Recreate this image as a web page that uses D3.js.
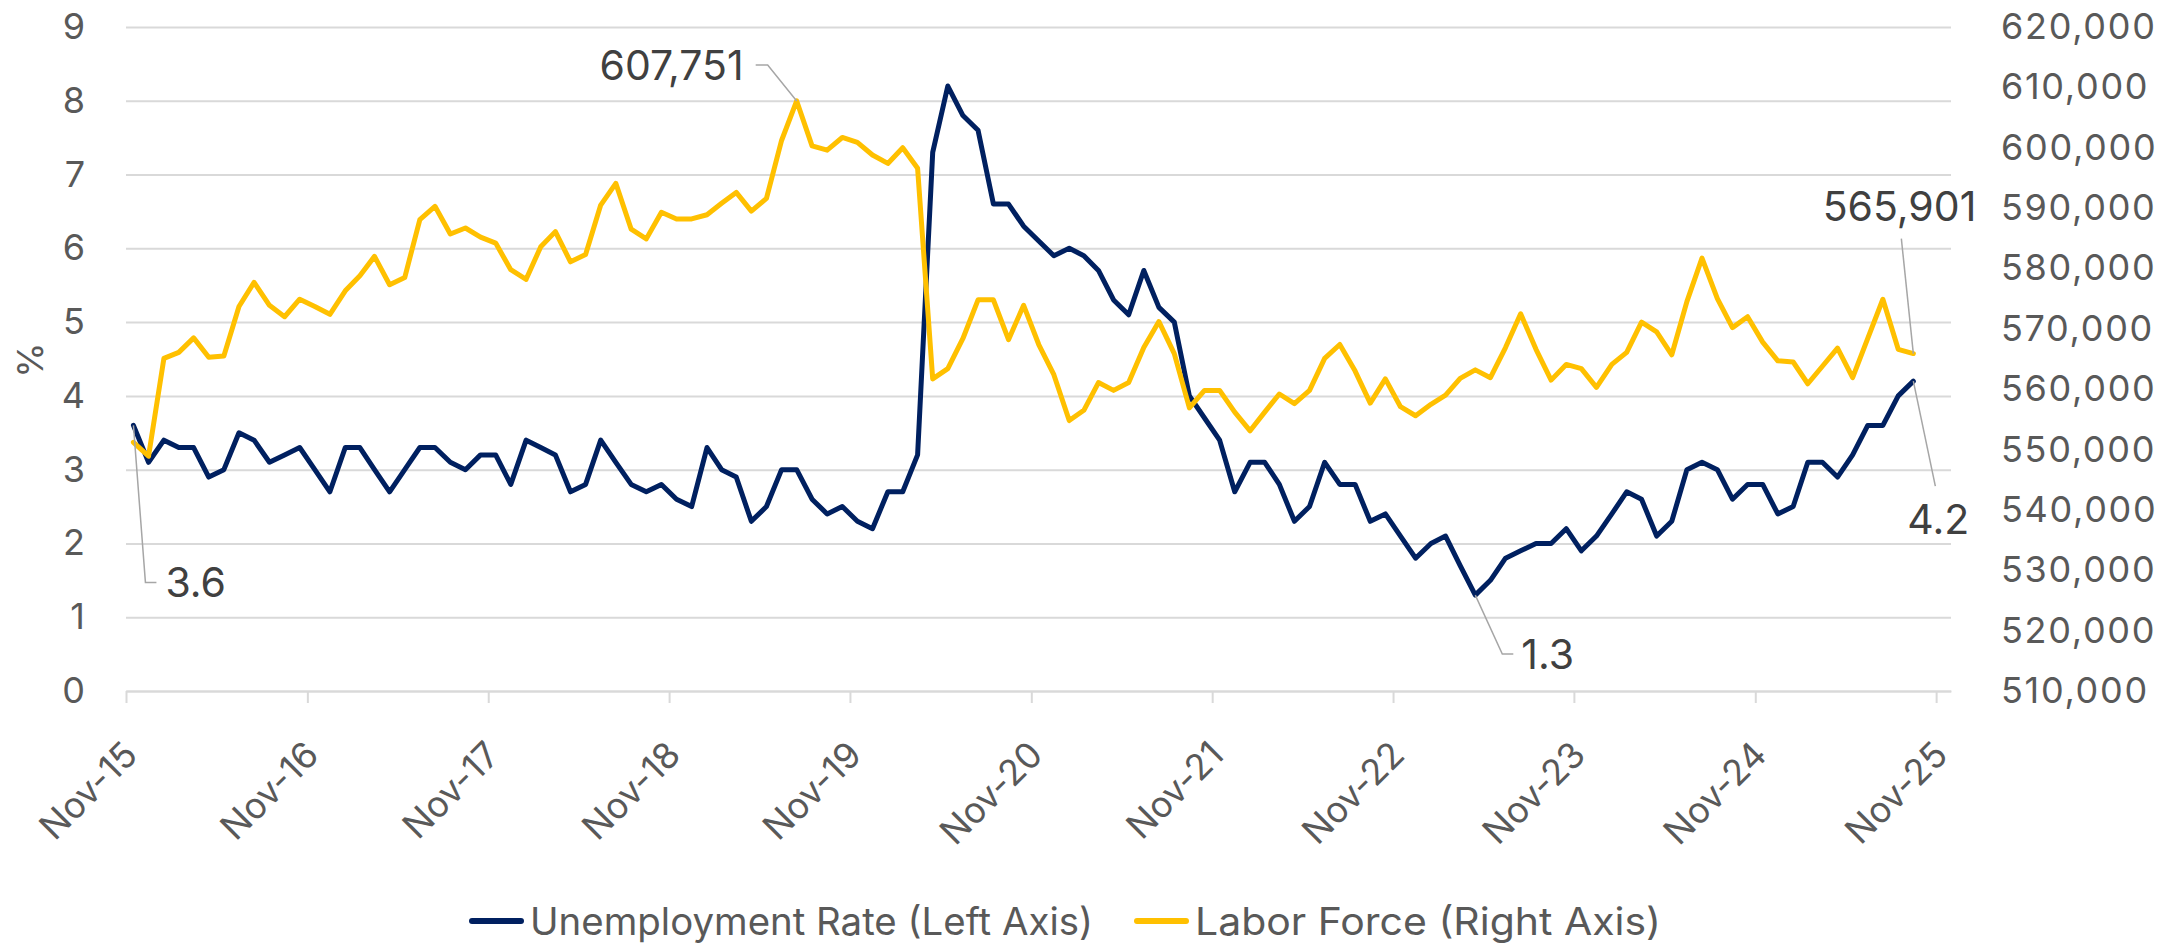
<!DOCTYPE html>
<html>
<head>
<meta charset="utf-8">
<script src="https://cdn.jsdelivr.net/npm/d3@7"></script>
<style>
  body { margin: 0; background: #fff; }
  svg text { font-family: Inter, "Noto Sans", sans-serif; }
</style>
</head>
<body>
<svg id="chart"></svg>
<script>
// monthly data, first value = Nov-15
const startMonth = "Nov-15";
const tickLabels = ["Nov-15", "Nov-16", "Nov-17", "Nov-18", "Nov-19", "Nov-20",
                    "Nov-21", "Nov-22", "Nov-23", "Nov-24", "Nov-25"];

const unemploymentRate = [
    3.6, 3.1, 3.4, 3.3, 3.3, 2.9, 3.0, 3.5, 3.4, 3.1, 3.2, 3.3,
    3.0, 2.7, 3.3, 3.3, 3.0, 2.7, 3.0, 3.3, 3.3, 3.1, 3.0, 3.2,
    3.2, 2.8, 3.4, 3.3, 3.2, 2.7, 2.8, 3.4, 3.1, 2.8, 2.7, 2.8,
    2.6, 2.5, 3.3, 3.0, 2.9, 2.3, 2.5, 3.0, 3.0, 2.6, 2.4, 2.5,
    2.3, 2.2, 2.7, 2.7, 3.2, 7.3, 8.2, 7.8, 7.6, 6.6, 6.6, 6.3,
    6.1, 5.9, 6.0, 5.9, 5.7, 5.3, 5.1, 5.7, 5.2, 5.0, 4.0, 3.7,
    3.4, 2.7, 3.1, 3.1, 2.8, 2.3, 2.5, 3.1, 2.8, 2.8, 2.3, 2.4,
    2.1, 1.8, 2.0, 2.1, 1.7, 1.3, 1.5, 1.8, 1.9, 2.0, 2.0, 2.2,
    1.9, 2.1, 2.4, 2.7, 2.6, 2.1, 2.3, 3.0, 3.1, 3.0, 2.6, 2.8,
    2.8, 2.4, 2.5, 3.1, 3.1, 2.9, 3.2, 3.6, 3.6, 4.0, 4.2
];

const laborForce = [
    551200, 548900, 565100, 566100, 568500, 565300, 565500, 573700, 577700, 573900, 572000, 574900,
    573700, 572400, 576300, 578800, 582000, 577300, 578500, 588100, 590300, 585700, 586700, 585200,
    584200, 579800, 578200, 583600, 586100, 581100, 582300, 590500, 594100, 586500, 584900, 589300,
    588200, 588200, 588900, 590800, 592600, 589500, 591600, 601200, 607751, 600300, 599600, 601700,
    600900, 598800, 597400, 600000, 596600, 561700, 563400, 568400, 574800, 574800, 568200, 573900,
    567400, 562400, 554800, 556500, 561100, 559800, 561100, 566900, 571200, 565900, 556900, 559800,
    559800, 556200, 553100, 556200, 559200, 557600, 559800, 565100, 567400, 563000, 557700, 561700,
    557100, 555600, 557500, 559000, 561800, 563200, 561900, 566900, 572500, 566600, 561500, 564100,
    563400, 560300, 564100, 566100, 571100, 569500, 565700, 574500, 581700, 575000, 570200, 572000,
    567800, 564700, 564500, 560900, 563800, 566800, 561900, 568400, 574900, 566600, 565901
];

const seriesNames = ["Unemployment Rate (Left Axis)", "Labor Force (Right Axis)"];
const rateTicks = d3.range(0, 10, 1);
const forceTicks = d3.range(510000, 620001, 10000);

const width = 2174, height = 946;
const margin = {top: 27, right: 223, bottom: 255, left: 126};
const plotW = width - margin.left - margin.right;
const blue = "#002060", gold = "#FFC000", grey = "#595959", grid = "#d9d9d9";

const parseMonth = d3.timeParse("%b-%y");
const fmtMonth = d3.timeFormat("%b-%y");
const first = parseMonth(startMonth);
const tickDates = tickLabels.map(parseMonth);

let x = d3.scaleTime()
    .domain([tickDates[0], d3.timeMonth.offset(tickDates[tickDates.length - 1], 1)])
    .range([margin.left, width - margin.right]);
let yRate = d3.scaleLinear().domain([0, 9]).range([height - margin.bottom, margin.top]);
let yForce = d3.scaleLinear().domain([510000, 620000]).range([height - margin.bottom, margin.top]);

// points sit in the middle of their month
function xMonth(i) {
    let m = d3.timeMonth.offset(first, i);
    return (x(m) + x(d3.timeMonth.offset(m, 1))) / 2;
}

let svg = d3.select("#chart").attr("width", width).attr("height", height);

// gridlines
svg.append("g")
    .attr("transform", `translate(${margin.left},0)`)
    .call(d3.axisLeft(yRate).tickValues(rateTicks).tickSize(-plotW).tickFormat(""))
    .call(g => g.select(".domain").remove())
    .call(g => g.selectAll("line").attr("stroke", grid).attr("stroke-width", 2));

// left axis labels
svg.append("g")
    .attr("transform", `translate(${margin.left},0)`)
    .call(d3.axisLeft(yRate).tickValues(rateTicks).tickSize(0).tickPadding(41))
    .call(g => g.select(".domain").remove())
    .call(g => g.selectAll("text").attr("fill", grey).style("font-size", "36px"));

// right axis labels
svg.append("g")
    .attr("transform", `translate(${width - margin.right},0)`)
    .call(d3.axisRight(yForce).tickValues(forceTicks).tickSize(0).tickPadding(50).tickFormat(d3.format(",")))
    .call(g => g.select(".domain").remove())
    .call(g => g.selectAll("text").attr("fill", grey)
        .style("font-size", "36px").style("letter-spacing", "1.7px"));

// bottom axis
svg.append("g")
    .attr("transform", `translate(0,${height - margin.bottom})`)
    .call(d3.axisBottom(x).tickValues(tickDates).tickSize(12).tickSizeOuter(0).tickFormat(fmtMonth))
    .call(g => g.select(".domain").attr("stroke", grid).attr("stroke-width", 2))
    .call(g => g.selectAll(".tick line").attr("stroke", grid).attr("stroke-width", 2))
    .call(g => g.selectAll("text")
        .attr("fill", grey).style("font-size", "36px")
        .attr("x", 0).attr("y", 0).attr("dy", 0)
        .attr("text-anchor", "end")
        .attr("transform", "translate(13,66) rotate(-45)"));

svg.append("text")
    .attr("transform", "translate(30,360) rotate(-90)")
    .attr("text-anchor", "middle")
    .attr("dominant-baseline", "central")
    .attr("fill", grey).style("font-size", "36px")
    .text("%");

// lines
let rateLine = d3.line().x((d, i) => xMonth(i)).y(d => yRate(d));
let forceLine = d3.line().x((d, i) => xMonth(i)).y(d => yForce(d));

svg.append("path").datum(unemploymentRate)
    .attr("d", rateLine).attr("fill", "none")
    .attr("stroke", blue).attr("stroke-width", 5)
    .attr("stroke-linejoin", "round").attr("stroke-linecap", "round");

svg.append("path").datum(laborForce)
    .attr("d", forceLine).attr("fill", "none")
    .attr("stroke", gold).attr("stroke-width", 5)
    .attr("stroke-linejoin", "round").attr("stroke-linecap", "round");

// data labels with leader lines (offsets from the point)
const callouts = [
    {series: "rate", i: 0, text: "3.6", leader: [[12, 157], [23, 157]], at: [32, 157], anchor: "start"},
    {series: "force", i: 44, text: "607,751", leader: [[-29, -36], [-41, -36]], at: [-53, -36], anchor: "end"},
    {series: "rate", i: 89, text: "1.3", leader: [[27, 59], [38, 59]], at: [46, 59], anchor: "start"},
    {series: "force", i: 118, text: "565,901", leader: [[-12, -115]], at: [63, -148], anchor: "end"},
    {series: "rate", i: 118, text: "4.2", leader: [[22, 105]], at: [-6, 138], anchor: "start"}
];

callouts.forEach(c => {
    let px = xMonth(c.i);
    let py = c.series === "rate" ? yRate(unemploymentRate[c.i]) : yForce(laborForce[c.i]);
    let pts = [[px, py]].concat(c.leader.map(p => [px + p[0], py + p[1]]));
    svg.append("path")
        .attr("d", d3.line()(pts))
        .attr("fill", "none").attr("stroke", "#a6a6a6").attr("stroke-width", 1.5);
    svg.append("text")
        .attr("x", px + c.at[0]).attr("y", py + c.at[1])
        .attr("text-anchor", c.anchor).attr("dominant-baseline", "central")
        .attr("fill", "#404040").style("font-size", "41px")
        .text(c.text);
});

// legend: sample line, then label; label widths follow the reference
let legendY = 921;
const legendTextW = [563, 466];
let legend = svg.append("g");
let items = legend.selectAll("g").data([[seriesNames[0], blue], [seriesNames[1], gold]])
    .join("g");
items.append("line")
    .attr("x1", 3).attr("x2", 52).attr("y1", legendY).attr("y2", legendY)
    .attr("stroke", d => d[1]).attr("stroke-width", 6).attr("stroke-linecap", "round");
items.append("text")
    .attr("x", 61).attr("y", legendY)
    .attr("dominant-baseline", "central")
    .attr("fill", grey).style("font-size", "38px")
    .attr("textLength", (d, i) => legendTextW[i])
    .attr("lengthAdjust", "spacingAndGlyphs")
    .text(d => d[0]);

let total = 61 + legendTextW[0] + 41 + 61 + legendTextW[1];
let lx = 1065 - total / 2;
items.attr("transform", (d, i) => `translate(${i === 0 ? lx : lx + 61 + legendTextW[0] + 41},0)`);
</script>
</body>
</html>
